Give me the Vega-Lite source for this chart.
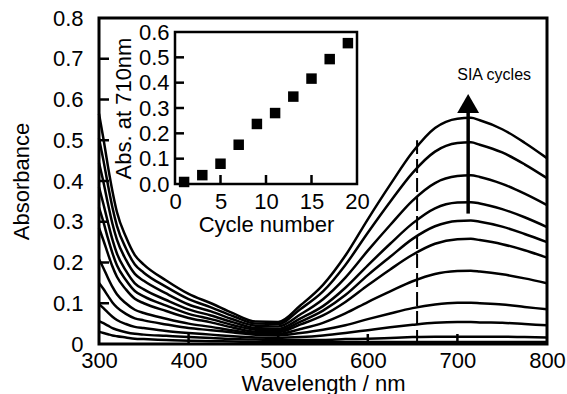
{
  "$schema": "https://vega.github.io/schema/vega-lite/v6.json",
  "width": 448,
  "height": 326,
  "autosize": {"type": "none"},
  "padding": {"left": 99, "top": 18, "right": 20, "bottom": 50},
  "background": "white",
  "config": {
    "font": "Liberation Sans",
    "view": {"stroke": "black", "strokeWidth": 3},
    "axis": {
      "grid": false, "domain": false, "ticks": false,
      "labelColor": "black", "titleColor": "black", "titleFontWeight": "normal",
      "labelFontSize": 22, "titleFontSize": 22, "labelFlush": false, "labelOverlap": false,
      "labelFont": "Liberation Sans", "titleFont": "Liberation Sans"
    }
  },
  "datasets": {
    "curves": [
      {"c":1,"w":300,"a":0.565},{"c":1,"w":305,"a":0.503},{"c":1,"w":310,"a":0.436},{"c":1,"w":315,"a":0.375},{"c":1,"w":320,"a":0.324},{"c":1,"w":330,"a":0.263},{"c":1,"w":340,"a":0.218},{"c":1,"w":350,"a":0.195},{"c":1,"w":375,"a":0.156},{"c":1,"w":400,"a":0.123},{"c":1,"w":425,"a":0.100},{"c":1,"w":450,"a":0.075},{"c":1,"w":475,"a":0.055},{"c":1,"w":500,"a":0.054},{"c":1,"w":525,"a":0.095},{"c":1,"w":550,"a":0.145},{"c":1,"w":575,"a":0.217},{"c":1,"w":600,"a":0.306},{"c":1,"w":625,"a":0.391},{"c":1,"w":650,"a":0.471},{"c":1,"w":675,"a":0.530},{"c":1,"w":700,"a":0.553},{"c":1,"w":715,"a":0.555},{"c":1,"w":725,"a":0.549},{"c":1,"w":750,"a":0.527},{"c":1,"w":775,"a":0.494},{"c":1,"w":800,"a":0.456},
      {"c":2,"w":300,"a":0.505},{"c":2,"w":305,"a":0.450},{"c":2,"w":310,"a":0.390},{"c":2,"w":315,"a":0.335},{"c":2,"w":320,"a":0.290},{"c":2,"w":330,"a":0.235},{"c":2,"w":340,"a":0.195},{"c":2,"w":350,"a":0.175},{"c":2,"w":375,"a":0.140},{"c":2,"w":400,"a":0.110},{"c":2,"w":425,"a":0.090},{"c":2,"w":450,"a":0.068},{"c":2,"w":475,"a":0.050},{"c":2,"w":500,"a":0.049},{"c":2,"w":525,"a":0.086},{"c":2,"w":550,"a":0.129},{"c":2,"w":575,"a":0.194},{"c":2,"w":600,"a":0.273},{"c":2,"w":625,"a":0.349},{"c":2,"w":650,"a":0.420},{"c":2,"w":675,"a":0.472},{"c":2,"w":700,"a":0.493},{"c":2,"w":715,"a":0.495},{"c":2,"w":725,"a":0.489},{"c":2,"w":750,"a":0.470},{"c":2,"w":775,"a":0.441},{"c":2,"w":800,"a":0.407},
      {"c":3,"w":300,"a":0.445},{"c":3,"w":305,"a":0.397},{"c":3,"w":310,"a":0.344},{"c":3,"w":315,"a":0.295},{"c":3,"w":320,"a":0.256},{"c":3,"w":330,"a":0.207},{"c":3,"w":340,"a":0.172},{"c":3,"w":350,"a":0.155},{"c":3,"w":375,"a":0.124},{"c":3,"w":400,"a":0.097},{"c":3,"w":425,"a":0.080},{"c":3,"w":450,"a":0.060},{"c":3,"w":475,"a":0.045},{"c":3,"w":500,"a":0.043},{"c":3,"w":525,"a":0.073},{"c":3,"w":550,"a":0.110},{"c":3,"w":575,"a":0.163},{"c":3,"w":600,"a":0.229},{"c":3,"w":625,"a":0.292},{"c":3,"w":650,"a":0.352},{"c":3,"w":675,"a":0.395},{"c":3,"w":700,"a":0.412},{"c":3,"w":715,"a":0.414},{"c":3,"w":725,"a":0.410},{"c":3,"w":750,"a":0.393},{"c":3,"w":775,"a":0.369},{"c":3,"w":800,"a":0.341},
      {"c":4,"w":300,"a":0.385},{"c":4,"w":305,"a":0.343},{"c":4,"w":310,"a":0.298},{"c":4,"w":315,"a":0.256},{"c":4,"w":320,"a":0.222},{"c":4,"w":330,"a":0.180},{"c":4,"w":340,"a":0.149},{"c":4,"w":350,"a":0.134},{"c":4,"w":375,"a":0.108},{"c":4,"w":400,"a":0.085},{"c":4,"w":425,"a":0.070},{"c":4,"w":450,"a":0.053},{"c":4,"w":475,"a":0.039},{"c":4,"w":500,"a":0.037},{"c":4,"w":525,"a":0.063},{"c":4,"w":550,"a":0.093},{"c":4,"w":575,"a":0.138},{"c":4,"w":600,"a":0.193},{"c":4,"w":625,"a":0.246},{"c":4,"w":650,"a":0.296},{"c":4,"w":675,"a":0.333},{"c":4,"w":700,"a":0.347},{"c":4,"w":715,"a":0.348},{"c":4,"w":725,"a":0.345},{"c":4,"w":750,"a":0.331},{"c":4,"w":775,"a":0.311},{"c":4,"w":800,"a":0.287},
      {"c":5,"w":300,"a":0.335},{"c":5,"w":305,"a":0.299},{"c":5,"w":310,"a":0.259},{"c":5,"w":315,"a":0.223},{"c":5,"w":320,"a":0.193},{"c":5,"w":330,"a":0.157},{"c":5,"w":340,"a":0.130},{"c":5,"w":350,"a":0.117},{"c":5,"w":375,"a":0.094},{"c":5,"w":400,"a":0.074},{"c":5,"w":425,"a":0.061},{"c":5,"w":450,"a":0.046},{"c":5,"w":475,"a":0.035},{"c":5,"w":500,"a":0.033},{"c":5,"w":525,"a":0.055},{"c":5,"w":550,"a":0.082},{"c":5,"w":575,"a":0.120},{"c":5,"w":600,"a":0.169},{"c":5,"w":625,"a":0.214},{"c":5,"w":650,"a":0.258},{"c":5,"w":675,"a":0.289},{"c":5,"w":700,"a":0.302},{"c":5,"w":715,"a":0.303},{"c":5,"w":725,"a":0.300},{"c":5,"w":750,"a":0.288},{"c":5,"w":775,"a":0.270},{"c":5,"w":800,"a":0.250},
      {"c":6,"w":300,"a":0.285},{"c":6,"w":305,"a":0.254},{"c":6,"w":310,"a":0.221},{"c":6,"w":315,"a":0.190},{"c":6,"w":320,"a":0.165},{"c":6,"w":330,"a":0.134},{"c":6,"w":340,"a":0.111},{"c":6,"w":350,"a":0.100},{"c":6,"w":375,"a":0.081},{"c":6,"w":400,"a":0.064},{"c":6,"w":425,"a":0.053},{"c":6,"w":450,"a":0.040},{"c":6,"w":475,"a":0.030},{"c":6,"w":500,"a":0.029},{"c":6,"w":525,"a":0.048},{"c":6,"w":550,"a":0.070},{"c":6,"w":575,"a":0.103},{"c":6,"w":600,"a":0.144},{"c":6,"w":625,"a":0.183},{"c":6,"w":650,"a":0.219},{"c":6,"w":675,"a":0.246},{"c":6,"w":700,"a":0.257},{"c":6,"w":715,"a":0.258},{"c":6,"w":725,"a":0.255},{"c":6,"w":750,"a":0.245},{"c":6,"w":775,"a":0.230},{"c":6,"w":800,"a":0.212},
      {"c":7,"w":300,"a":0.208},{"c":7,"w":305,"a":0.186},{"c":7,"w":310,"a":0.162},{"c":7,"w":315,"a":0.140},{"c":7,"w":320,"a":0.122},{"c":7,"w":330,"a":0.100},{"c":7,"w":340,"a":0.084},{"c":7,"w":350,"a":0.076},{"c":7,"w":375,"a":0.062},{"c":7,"w":400,"a":0.050},{"c":7,"w":425,"a":0.042},{"c":7,"w":450,"a":0.033},{"c":7,"w":475,"a":0.026},{"c":7,"w":500,"a":0.025},{"c":7,"w":525,"a":0.037},{"c":7,"w":550,"a":0.052},{"c":7,"w":575,"a":0.075},{"c":7,"w":600,"a":0.103},{"c":7,"w":625,"a":0.129},{"c":7,"w":650,"a":0.154},{"c":7,"w":675,"a":0.172},{"c":7,"w":700,"a":0.179},{"c":7,"w":715,"a":0.180},{"c":7,"w":725,"a":0.178},{"c":7,"w":750,"a":0.171},{"c":7,"w":775,"a":0.161},{"c":7,"w":800,"a":0.149},
      {"c":8,"w":300,"a":0.150},{"c":8,"w":305,"a":0.135},{"c":8,"w":310,"a":0.118},{"c":8,"w":315,"a":0.102},{"c":8,"w":320,"a":0.090},{"c":8,"w":330,"a":0.074},{"c":8,"w":340,"a":0.063},{"c":8,"w":350,"a":0.058},{"c":8,"w":375,"a":0.048},{"c":8,"w":400,"a":0.039},{"c":8,"w":425,"a":0.034},{"c":8,"w":450,"a":0.028},{"c":8,"w":475,"a":0.023},{"c":8,"w":500,"a":0.021},{"c":8,"w":525,"a":0.027},{"c":8,"w":550,"a":0.035},{"c":8,"w":575,"a":0.046},{"c":8,"w":600,"a":0.061},{"c":8,"w":625,"a":0.075},{"c":8,"w":650,"a":0.088},{"c":8,"w":675,"a":0.097},{"c":8,"w":700,"a":0.101},{"c":8,"w":715,"a":0.101},{"c":8,"w":725,"a":0.100},{"c":8,"w":750,"a":0.097},{"c":8,"w":775,"a":0.091},{"c":8,"w":800,"a":0.085},
      {"c":9,"w":300,"a":0.098},{"c":9,"w":305,"a":0.088},{"c":9,"w":310,"a":0.077},{"c":9,"w":315,"a":0.067},{"c":9,"w":320,"a":0.059},{"c":9,"w":330,"a":0.049},{"c":9,"w":340,"a":0.042},{"c":9,"w":350,"a":0.039},{"c":9,"w":375,"a":0.032},{"c":9,"w":400,"a":0.027},{"c":9,"w":425,"a":0.023},{"c":9,"w":450,"a":0.019},{"c":9,"w":475,"a":0.016},{"c":9,"w":500,"a":0.015},{"c":9,"w":525,"a":0.017},{"c":9,"w":550,"a":0.021},{"c":9,"w":575,"a":0.027},{"c":9,"w":600,"a":0.034},{"c":9,"w":625,"a":0.041},{"c":9,"w":650,"a":0.047},{"c":9,"w":675,"a":0.052},{"c":9,"w":700,"a":0.054},{"c":9,"w":715,"a":0.054},{"c":9,"w":725,"a":0.053},{"c":9,"w":750,"a":0.052},{"c":9,"w":775,"a":0.049},{"c":9,"w":800,"a":0.046},
      {"c":10,"w":300,"a":0.056},{"c":10,"w":305,"a":0.051},{"c":10,"w":310,"a":0.045},{"c":10,"w":315,"a":0.039},{"c":10,"w":320,"a":0.035},{"c":10,"w":330,"a":0.029},{"c":10,"w":340,"a":0.025},{"c":10,"w":350,"a":0.023},{"c":10,"w":375,"a":0.020},{"c":10,"w":400,"a":0.017},{"c":10,"w":425,"a":0.015},{"c":10,"w":450,"a":0.012},{"c":10,"w":475,"a":0.011},{"c":10,"w":500,"a":0.010},{"c":10,"w":525,"a":0.010},{"c":10,"w":550,"a":0.010},{"c":10,"w":575,"a":0.012},{"c":10,"w":600,"a":0.013},{"c":10,"w":625,"a":0.015},{"c":10,"w":650,"a":0.017},{"c":10,"w":675,"a":0.018},{"c":10,"w":700,"a":0.018},{"c":10,"w":715,"a":0.018},{"c":10,"w":725,"a":0.018},{"c":10,"w":750,"a":0.018},{"c":10,"w":775,"a":0.017},{"c":10,"w":800,"a":0.016},
      {"c":11,"w":300,"a":0.030},{"c":11,"w":305,"a":0.027},{"c":11,"w":310,"a":0.024},{"c":11,"w":315,"a":0.021},{"c":11,"w":320,"a":0.019},{"c":11,"w":330,"a":0.016},{"c":11,"w":340,"a":0.013},{"c":11,"w":350,"a":0.012},{"c":11,"w":375,"a":0.010},{"c":11,"w":400,"a":0.008},{"c":11,"w":425,"a":0.007},{"c":11,"w":450,"a":0.006},{"c":11,"w":475,"a":0.005},{"c":11,"w":500,"a":0.005},{"c":11,"w":525,"a":0.005},{"c":11,"w":550,"a":0.005},{"c":11,"w":575,"a":0.005},{"c":11,"w":600,"a":0.005},{"c":11,"w":625,"a":0.005},{"c":11,"w":650,"a":0.005},{"c":11,"w":675,"a":0.005},{"c":11,"w":700,"a":0.005},{"c":11,"w":715,"a":0.005},{"c":11,"w":725,"a":0.005},{"c":11,"w":750,"a":0.005},{"c":11,"w":775,"a":0.005},{"c":11,"w":800,"a":0.005}
    ],
    "inset": [
      {"n":1,"v":0.008},{"n":3,"v":0.035},{"n":5,"v":0.08},{"n":7,"v":0.155},{"n":9,"v":0.237},
      {"n":11,"v":0.28},{"n":13,"v":0.345},{"n":15,"v":0.416},{"n":17,"v":0.493},{"n":19,"v":0.556}
    ]
  },
  "layer": [
    {
      "layer": [
        {
          "data": {"name": "curves"},
          "mark": {"type": "line", "color": "black", "strokeWidth": 2.5, "interpolate": "monotone"},
          "encoding": {
            "x": {"field": "w", "type": "quantitative", "scale": {"domain": [300, 800], "nice": false, "zero": false},
              "axis": {"values": [300, 400, 500, 600, 700, 800], "title": "Wavelength / nm", "labelPadding": 6, "titlePadding": 2}},
            "y": {"field": "a", "type": "quantitative", "scale": {"domain": [0, 0.8], "nice": false},
              "axis": {"values": [0, 0.1, 0.2, 0.3, 0.4, 0.5, 0.6, 0.7, 0.8], "title": "Absorbance",
                "labelExpr": "datum.value == 0 ? '0' : format(datum.value, '.1f')", "labelPadding": 16, "titlePadding": 19}},
            "detail": {"field": "c", "type": "nominal"}
          }
        },
        {
          "data": {"values": [{"a": 0.1}, {"a": 0.2}, {"a": 0.3}, {"a": 0.4}, {"a": 0.5}, {"a": 0.6}, {"a": 0.7}]},
          "mark": {"type": "tick", "orient": "horizontal", "color": "black", "size": 10, "thickness": 2.5, "xOffset": 5, "opacity": 1},
          "encoding": {"x": {"datum": 300, "type": "quantitative"}, "y": {"field": "a", "type": "quantitative"}}
        },
        {
          "data": {"values": [{"w": 400}, {"w": 500}, {"w": 600}, {"w": 700}]},
          "mark": {"type": "tick", "orient": "vertical", "color": "black", "size": 10, "thickness": 2.5, "yOffset": -5, "opacity": 1},
          "encoding": {"x": {"field": "w", "type": "quantitative"}, "y": {"datum": 0, "type": "quantitative"}}
        },
        {
          "data": {"values": [{"w": 655, "a": 0, "a2": 0.5}]},
          "mark": {"type": "rule", "color": "black", "strokeWidth": 2, "strokeDash": [14, 5]},
          "encoding": {"x": {"field": "w", "type": "quantitative"}, "y": {"field": "a", "type": "quantitative"}, "y2": {"field": "a2"}}
        },
        {
          "data": {"values": [{"w": 712, "a": 0.32, "a2": 0.575}]},
          "mark": {"type": "rule", "color": "black", "strokeWidth": 3.5},
          "encoding": {"x": {"field": "w", "type": "quantitative"}, "y": {"field": "a", "type": "quantitative"}, "y2": {"field": "a2"}}
        },
        {
          "data": {"values": [{"w": 712, "a": 0.59}]},
          "mark": {"type": "point", "shape": "triangle-up", "filled": true, "color": "black", "size": 480, "opacity": 1},
          "encoding": {"x": {"field": "w", "type": "quantitative"}, "y": {"field": "a", "type": "quantitative"}}
        },
        {
          "data": {"values": [{"w": 741, "a": 0.659, "t": "SIA cycles"}]},
          "mark": {"type": "text", "font": "Liberation Sans", "fontSize": 16, "color": "black", "align": "center", "baseline": "middle"},
          "encoding": {"x": {"field": "w", "type": "quantitative"}, "y": {"field": "a", "type": "quantitative"}, "text": {"field": "t"}}
        }
      ]
    },
    {
      "layer": [
        {
          "data": {"values": [{"x0": 0, "x1": 20, "y0": 0, "y1": 0.6}]},
          "mark": {"type": "rect", "fill": null, "fillOpacity": 0, "stroke": "black", "strokeWidth": 2.5},
          "encoding": {
            "x": {"field": "x0", "type": "quantitative", "scale": {"domain": [0, 20], "range": [76, 258], "nice": false, "zero": false},
              "axis": {"orient": "bottom", "offset": -160, "values": [0, 5, 10, 15, 20], "title": "Cycle number", "labelPadding": 7, "titlePadding": 2}},
            "x2": {"field": "x1"},
            "y": {"field": "y0", "type": "quantitative", "scale": {"domain": [0, 0.6], "range": [166, 14], "nice": false},
              "axis": {"orient": "left", "offset": -76, "values": [0, 0.1, 0.2, 0.3, 0.4, 0.5, 0.6], "format": ".1f", "title": "Abs. at 710nm", "labelPadding": 6, "titlePadding": 3}},
            "y2": {"field": "y1"}
          }
        },
        {
          "data": {"values": [{"v": 0.1}, {"v": 0.2}, {"v": 0.3}, {"v": 0.4}, {"v": 0.5}]},
          "mark": {"type": "tick", "orient": "horizontal", "color": "black", "size": 9, "thickness": 2.5, "xOffset": 4.5, "opacity": 1},
          "encoding": {"x": {"datum": 0, "type": "quantitative"}, "y": {"field": "v", "type": "quantitative"}}
        },
        {
          "data": {"values": [{"n": 5}, {"n": 10}, {"n": 15}]},
          "mark": {"type": "tick", "orient": "vertical", "color": "black", "size": 9, "thickness": 2.5, "yOffset": -4.5, "opacity": 1},
          "encoding": {"x": {"field": "n", "type": "quantitative"}, "y": {"datum": 0, "type": "quantitative"}}
        },
        {
          "data": {"name": "inset"},
          "mark": {"type": "point", "shape": "square", "filled": true, "color": "black", "size": 110, "opacity": 1},
          "encoding": {"x": {"field": "n", "type": "quantitative"}, "y": {"field": "v", "type": "quantitative"}}
        }
      ]
    }
  ],
  "resolve": {"scale": {"x": "independent", "y": "independent"}, "axis": {"x": "independent", "y": "independent"}}
}
